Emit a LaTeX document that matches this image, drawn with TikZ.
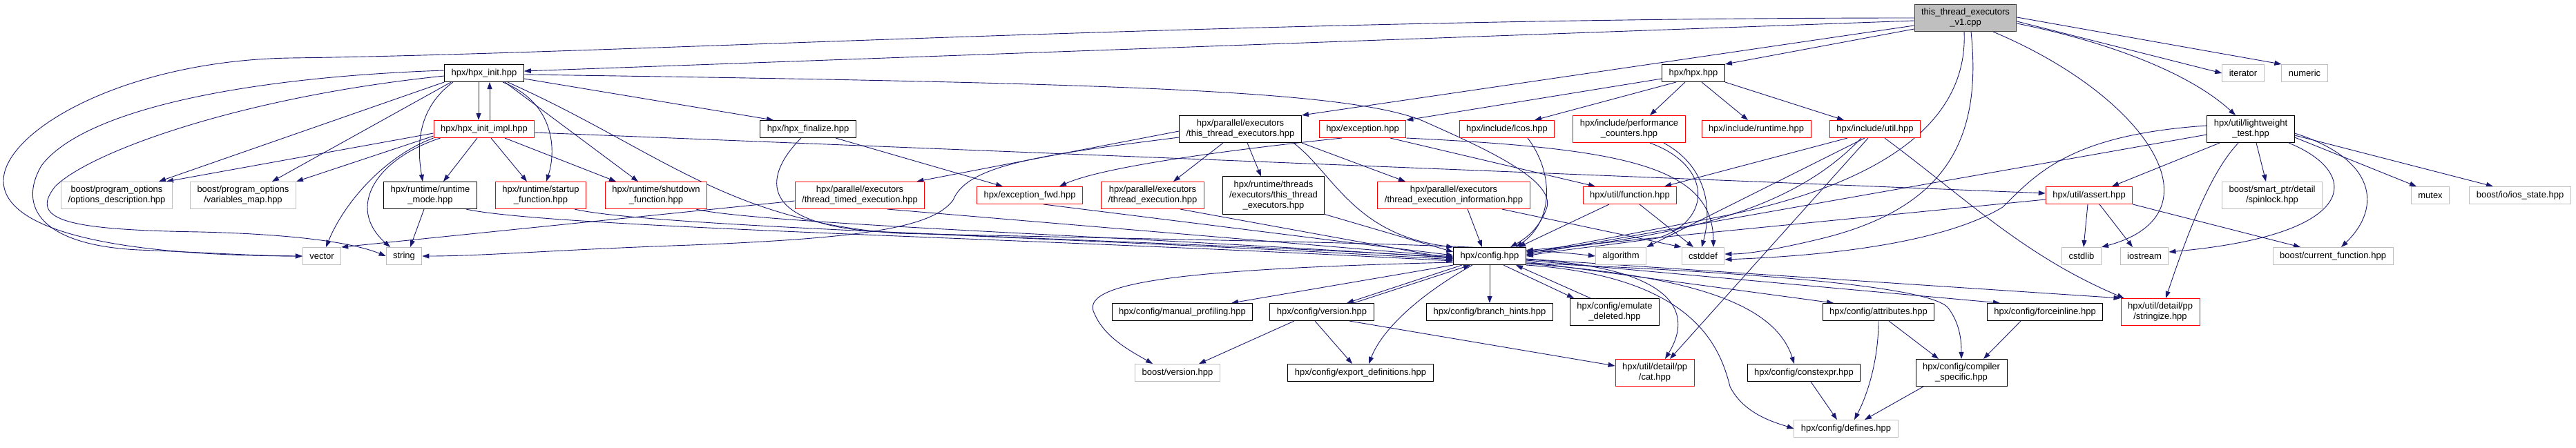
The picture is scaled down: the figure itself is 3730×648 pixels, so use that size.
\documentclass[tikz,border=0pt]{standalone}
\usepackage{fontspec}
\setmainfont{Liberation Sans}
\usetikzlibrary{arrows.meta,backgrounds}
\definecolor{edgec}{HTML}{191970}
\definecolor{redc}{HTML}{FF0000}
\definecolor{grayc}{HTML}{BFBFBF}
\definecolor{rootc}{HTML}{404040}
\tikzset{
  ar/.style={-{Triangle[length=10pt,width=7pt]},edgec,line width=0.9pt},
  box/.style={draw=black,line width=1pt,fill=white,align=center,inner xsep=10pt,inner ysep=6pt,minimum height=25pt,font=\fontsize{13}{15}\selectfont},
  rbox/.style={box,draw=redc},
  gbox/.style={box,draw=grayc},
  rootbox/.style={box,draw=rootc,fill=grayc}
}
\begin{document}
\begin{tikzpicture}[x=1pt,y=-1pt]
\useasboundingbox (0,0) rectangle (3730,648);
\node[rootbox] (root) at (2846,26) {this\_thread\_executors\\\_v1.cpp};
\node[box] (hinit) at (701,106) {hpx/hpx\_init.hpp};
\node[box] (hpx) at (2452,106) {hpx/hpx.hpp};
\node[gbox] (iter) at (3248,106) {iterator};
\node[gbox] (numeric) at (3337,106) {numeric};
\node[rbox] (impl) at (701,187) {hpx/hpx\_init\_impl.hpp};
\node[box] (final) at (1170,187) {hpx/hpx\_finalize.hpp};
\node[box] (pte) at (1796,187) {hpx/parallel/executors\\/this\_thread\_executors.hpp};
\node[rbox] (exc) at (1973,187) {hpx/exception.hpp};
\node[rbox] (lcos) at (2182,187) {hpx/include/lcos.hpp};
\node[rbox] (perf) at (2359,187) {hpx/include/performance\\\_counters.hpp};
\node[rbox] (irt) at (2543,187) {hpx/include/runtime.hpp};
\node[rbox] (iutil) at (2715,187) {hpx/include/util.hpp};
\node[box] (lwt) at (3259,187) {hpx/util/lightweight\\\_test.hpp};
\node[gbox] (poOd) at (169,283) {boost/program\_options\\/options\_description.hpp};
\node[gbox] (poVm) at (352,283) {boost/program\_options\\/variables\_map.hpp};
\node[box] (rtmode) at (623,283) {hpx/runtime/runtime\\\_mode.hpp};
\node[rbox] (startup) at (783,283) {hpx/runtime/startup\\\_function.hpp};
\node[rbox] (shutdown) at (950,283) {hpx/runtime/shutdown\\\_function.hpp};
\node[rbox] (tte) at (1245,283) {hpx/parallel/executors\\/thread\_timed\_execution.hpp};
\node[rbox] (efwd) at (1491,283) {hpx/exception\_fwd.hpp};
\node[rbox] (te) at (1669,283) {hpx/parallel/executors\\/thread\_execution.hpp};
\node[box] (rte) at (1844,283) {hpx/runtime/threads\\/executors/this\_thread\\\_executors.hpp};
\node[rbox] (tei) at (2105,283) {hpx/parallel/executors\\/thread\_execution\_information.hpp};
\node[rbox] (func) at (2360,283) {hpx/util/function.hpp};
\node[rbox] (assert) at (3025,283) {hpx/util/assert.hpp};
\node[gbox] (spin) at (3290,283) {boost/smart\_ptr/detail\\/spinlock.hpp};
\node[gbox] (mutex) at (3519,283) {mutex};
\node[gbox] (ios) at (3649,283) {boost/io/ios\_state.hpp};
\node[gbox] (vector) at (466,371) {vector};
\node[gbox] (string) at (585,371) {string};
\node[box] (config) at (2157,371) {hpx/config.hpp};
\node[gbox] (algo) at (2347,371) {algorithm};
\node[gbox] (cstddef) at (2466,371) {cstddef};
\node[gbox] (cstdlib) at (3014,371) {cstdlib};
\node[gbox] (iostream) at (3105,371) {iostream};
\node[gbox] (curfun) at (3378,371) {boost/current\_function.hpp};
\node[box] (manprof) at (1712,452) {hpx/config/manual\_profiling.hpp};
\node[box] (cver) at (1914,452) {hpx/config/version.hpp};
\node[box] (bhints) at (2157,452) {hpx/config/branch\_hints.hpp};
\node[box] (emul) at (2338,452) {hpx/config/emulate\\\_deleted.hpp};
\node[box] (attr) at (2720,452) {hpx/config/attributes.hpp};
\node[box] (force) at (2961,452) {hpx/config/forceinline.hpp};
\node[rbox] (stringize) at (3128,452) {hpx/util/detail/pp\\/stringize.hpp};
\node[gbox] (bver) at (1705,540) {boost/version.hpp};
\node[box] (expdef) at (1970,540) {hpx/config/export\_definitions.hpp};
\node[rbox] (cat) at (2396,540) {hpx/util/detail/pp\\/cat.hpp};
\node[box] (constexpr) at (2612,540) {hpx/config/constexpr.hpp};
\node[box] (compspec) at (2840,540) {hpx/config/compiler\\\_specific.hpp};
\node[gbox] (defines) at (2673,621) {hpx/config/defines.hpp};
\begin{scope}[on background layer]
\draw[ar] (root.west) .. controls (1800,26) and (900,78) .. (420,84) .. controls (180,88) and (5,190) .. (5,262) .. controls (5,330) and (150,370) .. (vector.west);
\draw[ar] ([yshift=-4pt]root.west) -- ([yshift=3pt]hinit.east);
\draw[ar] ([yshift=-16pt]root.west) -- (hpx.north east);
\draw[ar] ([yshift=-11pt]root.west) -- (pte.north east);
\draw[ar] ([yshift=-8pt]root.east) .. controls (3050,60) and (3170,105) .. ([xshift=-22pt]lwt.north);
\draw[ar] ([yshift=-5pt]root.east) -- (iter.west);
\draw[ar] ([yshift=1pt]root.east) -- (numeric.north west);
\draw[ar] ([xshift=-2pt]root.south) .. controls (2850,180) and (2720,270) .. (2480,316) .. controls (2330,345) and (2260,358) .. ([yshift=4pt]config.east);
\draw[ar] ([xshift=8pt]root.south) .. controls (2870,200) and (2820,300) .. (2640,345) .. controls (2570,362) and (2530,368) .. ([yshift=3pt]cstddef.east);
\draw[ar] ([xshift=40pt]root.south) .. controls (3110,140) and (3220,310) .. (cstdlib.north east);
\draw[ar] ([yshift=-8pt]hpx.west) -- (exc.north east);
\draw[ar] ([xshift=-25pt]hpx.south) -- ([xshift=40pt]lcos.north);
\draw[ar] ([xshift=-12pt]hpx.south) -- ([xshift=30pt]perf.north);
\draw[ar] ([xshift=12pt]hpx.south) -- ([xshift=-12pt]irt.north);
\draw[ar] (hpx.south east) -- ([xshift=-45pt]iutil.north);
\draw[ar] ([xshift=-8pt]hinit.south) -- ([xshift=-8pt]impl.north);
\draw[ar] ([xshift=8pt]impl.north) -- ([xshift=8pt]hinit.south);
\draw[ar] ([yshift=4pt]hinit.west) .. controls (350,112) and (120,160) .. (60,240) .. controls (25,300) and (60,355) .. (200,362) .. controls (300,366) and (380,371) .. (vector.west);
\draw[ar] ([yshift=-4pt]hinit.west) .. controls (350,140) and (130,220) .. (80,270) .. controls (40,320) and (100,333) .. (290,336) .. controls (450,340) and (520,355) .. (string.west);
\draw[ar] (hinit.south west) -- ([xshift=-20pt]poOd.north east);
\draw[ar] ([xshift=10pt]hinit.south west) -- ([xshift=-35pt]poVm.north east);
\draw[ar] ([xshift=-45pt]hinit.south) .. controls (600,160) and (605,220) .. ([xshift=-11pt]rtmode.north);
\draw[ar] ([xshift=27pt]hinit.south) .. controls (805,150) and (805,220) .. ([xshift=8pt]startup.north);
\draw[ar] ([xshift=30pt]hinit.south) -- ([xshift=-26pt]shutdown.north);
\draw[ar] ([yshift=-8pt]hinit.east) -- ([xshift=-50pt]final.north);
\draw[ar] ([yshift=-2pt]hinit.east) .. controls (1600,120) and (1950,130) .. (2060,175) .. controls (2150,215) and (2250,260) .. (2240,300) .. controls (2230,330) and (2210,345) .. ([xshift=30pt]config.north);
\draw[ar] ([xshift=34pt]hinit.south) .. controls (950,215) and (1050,320) .. (1300,338) .. controls (1800,350) and (2150,352) .. (algo.west);
\draw[ar] ([yshift=-6pt]impl.west) -- ([xshift=-9pt]poOd.north east);
\draw[ar] ([yshift=-10pt]impl.west) -- (poVm.north east);
\draw[ar] (impl.south west) .. controls (560,225) and (500,290) .. ([xshift=6pt]vector.north);
\draw[ar] ([xshift=10pt]impl.south west) .. controls (545,230) and (500,300) .. ([xshift=-20pt]string.north);
\draw[ar] ([xshift=-10pt]impl.south) -- ([xshift=19pt]rtmode.north);
\draw[ar] ([xshift=10pt]impl.south) -- ([xshift=-20pt]startup.north);
\draw[ar] ([xshift=30pt]impl.south) -- ([xshift=-58pt]shutdown.north);
\draw[ar] ([yshift=-5pt]impl.east) -- ([yshift=3pt]assert.west);
\draw[ar] ([xshift=-10pt]final.south) .. controls (1110,250) and (1090,320) .. (1260,335) .. controls (1600,350) and (1900,360) .. ([yshift=-2pt]config.west);
\draw[ar] ([xshift=40pt]final.south) -- ([xshift=-39pt]efwd.north);
\draw[ar] ([xshift=-9pt]rtmode.south) -- ([xshift=9pt]string.north);
\draw[ar] ([xshift=52pt]rtmode.south) .. controls (800,330) and (1500,345) .. ([yshift=-7pt]config.west);
\draw[ar] ([xshift=49pt]startup.south) .. controls (950,330) and (1600,345) .. ([yshift=-5pt]config.west);
\draw[ar] ([xshift=58pt]shutdown.south) .. controls (1100,325) and (1700,345) .. ([yshift=-3pt]config.west);
\draw[ar] ([yshift=-8pt]tte.west) -- (vector.north east);
\draw[ar] ([xshift=40pt]tte.south) -- ([yshift=-1pt]config.west);
\draw[ar] ([xshift=20pt]efwd.south) -- ([yshift=1pt]config.west);
\draw[ar] ([xshift=40pt]te.south) -- ([yshift=-4pt]config.west);
\draw[ar] (rte.south east) -- ([yshift=6pt]config.west);
\draw[ar] ([yshift=-3pt]pte.west) -- ([xshift=-12pt]tte.north east);
\draw[ar] ([xshift=-25pt]pte.south) -- ([xshift=30pt]te.north);
\draw[ar] ([xshift=10pt]pte.south) -- ([xshift=-18pt]rte.north);
\draw[ar] (pte.south east) -- ([xshift=-70pt]tei.north);
\draw[ar] ([xshift=-12pt]pte.south east) .. controls (1930,250) and (1960,340) .. (config.north west);
\draw[ar] ([yshift=-12pt]pte.west) .. controls (1500,225) and (1400,240) .. (1380,290) .. controls (1350,330) and (1250,345) .. (1000,355) .. controls (800,362) and (700,371) .. (string.east);
\draw[ar] ([xshift=-30pt]exc.south) .. controls (1800,215) and (1600,240) .. ([xshift=43pt]efwd.north);
\draw[ar] ([xshift=40pt]exc.south) -- ([xshift=-50pt]func.north);
\draw[ar] (exc.south east) .. controls (2350,215) and (2480,240) .. ([xshift=15pt]cstddef.north);
\draw[ar] ([xshift=30pt]lcos.south) .. controls (2250,250) and (2250,320) .. ([xshift=38pt]config.north);
\draw[ar] ([xshift=50pt]perf.south) .. controls (2470,240) and (2480,300) .. ([xshift=-2pt]cstddef.north);
\draw[ar] ([xshift=30pt]perf.south) .. controls (2480,240) and (2480,320) .. (2400,345) .. controls (2330,355) and (2260,362) .. (config.east);
\draw[ar] ([xshift=-40pt]iutil.south) -- ([xshift=50pt]func.north);
\draw[ar] ([xshift=-20pt]iutil.south) .. controls (2600,300) and (2450,340) .. ([yshift=6pt]config.east);
\draw[ar] ([xshift=-15pt]iutil.south) -- (algo.north east);
\draw[ar] ([xshift=-10pt]iutil.south) -- ([xshift=22pt]cat.north);
\draw[ar] ([xshift=14pt]iutil.south) .. controls (2850,290) and (2930,370) .. ([xshift=5pt]stringize.north west);
\draw[ar] ([yshift=-8pt]lwt.west) -- ([yshift=2pt]config.east);
\draw[ar] ([yshift=5pt]lwt.west) .. controls (3000,195) and (2950,250) .. (2900,300) .. controls (2800,360) and (2600,372) .. ([yshift=-5pt]cstddef.east);
\draw[ar] ([xshift=-45pt]lwt.south) -- ([xshift=33pt]assert.north);
\draw[ar] ([xshift=-18pt]lwt.south) .. controls (3210,240) and (3180,300) .. ([xshift=8pt]stringize.north);
\draw[ar] ([xshift=8pt]lwt.south) -- ([xshift=-9pt]spin.north);
\draw[ar] ([xshift=55pt]lwt.south) .. controls (3420,250) and (3420,340) .. ([yshift=6pt]iostream.east);
\draw[ar] ([yshift=-6pt]lwt.east) .. controls (3440,230) and (3450,300) .. ([xshift=12pt]curfun.north);
\draw[ar] ([yshift=-12pt]lwt.east) -- ([xshift=-20pt]mutex.north);
\draw[ar] ([yshift=-9pt]lwt.east) -- ([xshift=-39pt]ios.north);
\draw[ar] ([yshift=-6pt]assert.west) -- ([yshift=8pt]config.east);
\draw[ar] ([xshift=-2pt]assert.south) -- ([xshift=3pt]cstdlib.north);
\draw[ar] ([xshift=15pt]assert.south) -- ([xshift=-17pt]iostream.north);
\draw[ar] (assert.south east) -- ([xshift=-47pt]curfun.north);
\draw[ar] ([xshift=20pt]tei.south) -- ([xshift=-11pt]config.north);
\draw[ar] ([xshift=70pt]tei.south) -- (cstddef.north west);
\draw[ar] ([xshift=-30pt]func.south) -- ([xshift=42pt]config.north);
\draw[ar] ([xshift=14pt]func.south) -- ([xshift=-14pt]cstddef.north);
\draw[ar] (config.south west) -- ([xshift=71pt]manprof.north);
\draw[ar] ([xshift=-40pt]config.south) -- ([xshift=36pt]cver.north);
\draw[ar] ([xshift=46pt]cver.north) -- ([xshift=-28pt]config.south);
\draw[ar] (config.south) -- (bhints.north);
\draw[ar] ([xshift=20pt]config.south) -- ([xshift=-59pt]emul.north);
\draw[ar] ([xshift=-35pt]emul.north) -- ([xshift=38pt]config.south);
\draw[ar] ([yshift=-8pt]config.east) -- ([xshift=-65pt]attr.north);
\draw[ar] ([yshift=-6pt]config.east) -- ([xshift=-65pt]force.north);
\draw[ar] ([yshift=-4pt]config.east) -- (stringize.north west);
\draw[ar] ([yshift=-10pt]config.east) .. controls (2550,395) and (2790,415) .. (2820,445) .. controls (2840,470) and (2840,500) .. (compspec.north);
\draw[ar] ([yshift=-11pt]config.east) .. controls (2450,400) and (2570,440) .. ([xshift=-14pt]constexpr.north);
\draw[ar] ([yshift=-5pt]config.east) .. controls (2400,385) and (2460,440) .. ([xshift=15pt]cat.north);
\draw[ar] (config.south east) .. controls (2450,400) and (2490,500) .. (2505,560) .. controls (2525,600) and (2570,612) .. (defines.west);
\draw[ar] ([yshift=-9pt]config.west) .. controls (1700,390) and (1560,410) .. (1585,455) .. controls (1600,490) and (1640,510) .. ([xshift=-36pt]bver.north);
\draw[ar] ([xshift=-25pt]config.south) .. controls (2050,430) and (2000,480) .. ([xshift=12pt]expdef.north);
\draw[ar] ([xshift=-40pt]cver.south) -- ([xshift=31pt]bver.north);
\draw[ar] ([xshift=-10pt]cver.south) -- ([xshift=-12pt]expdef.north);
\draw[ar] ([xshift=40pt]cver.south) -- ([yshift=10pt]cat.west);
\draw[ar] ([xshift=15pt]attr.south) -- ([xshift=-33pt]compspec.north);
\draw[ar] (attr.south) .. controls (2720,520) and (2705,570) .. ([xshift=12pt]defines.north);
\draw[ar] ([xshift=-35pt]force.south) -- ([xshift=32pt]compspec.north);
\draw[ar] ([xshift=10pt]constexpr.south) -- ([xshift=-13pt]defines.north);
\draw[ar] ([xshift=-55pt]compspec.south) -- ([xshift=27pt]defines.north);
\end{scope}
\end{tikzpicture}
\end{document}
